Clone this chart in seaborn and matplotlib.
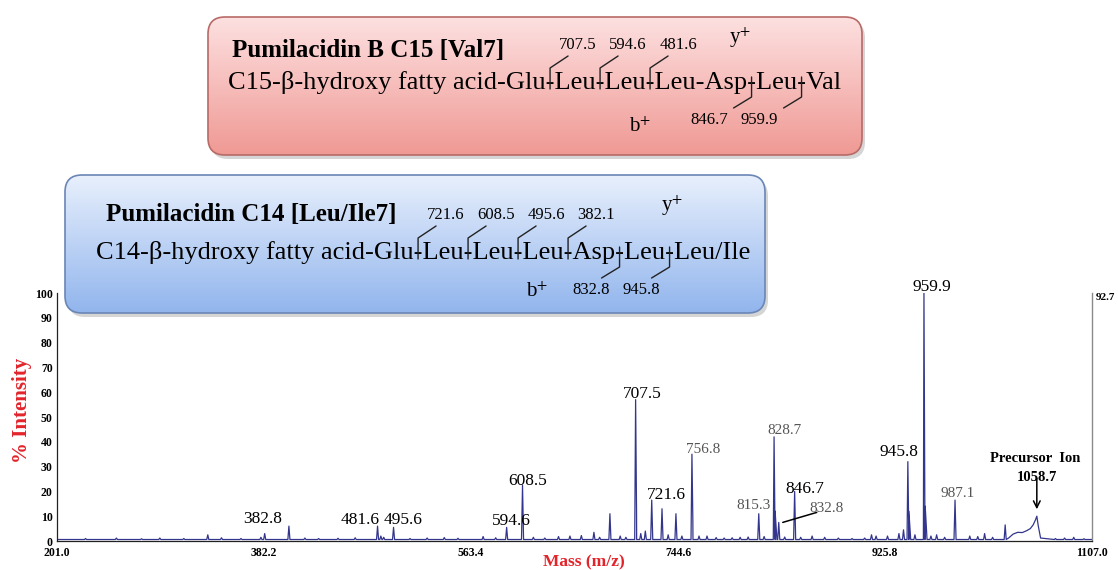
import numpy as np
import pandas as pd
import matplotlib
matplotlib.use('Agg')
import matplotlib.pyplot as plt
import seaborn as sns
from matplotlib.patches import FancyBboxPatch

# main peaks (m/z, % intensity)
peak_mz = [382.8, 404.0, 481.6, 484.5, 495.6, 594.6, 608.5, 671.0, 685.0, 707.5,
           712.0, 716.0, 721.6, 730.6, 742.8, 756.8, 815.3, 828.7, 832.8, 846.7,
           945.8, 959.9, 987.1, 1031.0]
peak_int = [3.0, 6.0, 6.0, 2.0, 5.5, 5.5, 22.5, 3.5, 11.0, 57.0,
            3.0, 4.0, 16.5, 13.0, 11.0, 35.0, 11.0, 42.0, 7.5, 20.0,
            32.0, 100.0, 16.5, 6.5]

# broader shoulders at the foot of the big peaks
shoulder_mz = [708.3, 757.6, 829.6, 946.7, 961.0]
shoulder_int = [12.0, 8.0, 12.0, 12.0, 14.0]

# small noise peaks along the baseline
noise_mz = [226, 253, 275, 291, 312, 333, 345, 362, 379.5, 418, 430, 447, 462,
            487, 510, 525, 540, 552, 574, 585, 618, 628, 640, 650, 660, 676,
            694, 699, 736, 748, 763, 770, 778, 785, 792, 799, 806, 820, 838,
            852, 862, 873, 885, 897, 908, 914, 918, 928, 938, 942, 952, 966,
            971, 978, 1000, 1007, 1013, 1020, 1075, 1083, 1091, 1100]
noise_int = [1.0, 1.2, 0.9, 1.2, 1.0, 2.5, 1.3, 1.0, 1.5, 1.2, 1.0, 1.1, 1.3,
             1.5, 1.0, 1.2, 1.4, 1.1, 1.8, 1.3, 1.5, 1.2, 1.8, 2.0, 2.2, 1.5,
             2.0, 1.5, 2.5, 2.0, 2.0, 2.0, 1.4, 1.2, 1.3, 1.5, 1.6, 1.8, 1.6,
             1.5, 2.0, 1.5, 1.2, 1.0, 1.2, 2.5, 2.0, 2.0, 3.0, 4.5, 2.5, 2.0,
             2.5, 1.5, 2.0, 1.8, 3.0, 1.5, 1.0, 1.2, 1.5, 0.9]

# broad precursor hump
hump_mz = [1034, 1038, 1042, 1046, 1050, 1053, 1055.5, 1057.5, 1058.7, 1060, 1062]
hump_int = [1.2, 2.8, 3.5, 3.4, 4.2, 5.0, 6.5, 8.5, 10.0, 6.0, 1.2]

x_ticks = [201.0, 382.2, 563.4, 744.6, 925.8, 1107.0]
y_ticks = [0, 10, 20, 30, 40, 50, 60, 70, 80, 90, 100]

# peak labels: text, m/z, intensity, offset x / up (px), large black or small grey
label_text = ['382.8', '481.6', '495.6', '594.6', '608.5', '707.5', '721.6', '846.7',
              '945.8', '959.9', '756.8', '815.3', '828.7', '832.8', '987.1']
label_mz = [382.8, 481.6, 495.6, 594.6, 608.5, 707.5, 721.6, 846.7,
            945.8, 959.9, 756.8, 815.3, 828.7, 832.8, 987.1]
label_int = [3.0, 6.0, 5.5, 5.5, 22.5, 57.0, 16.5, 20.0,
             32.0, 100.0, 35.0, 11.0, 42.0, 7.5, 16.5]
label_dx = [-2, -17, 10, 5, 5, 7, 15, 10, -9, 8, 11, -5, 10, 48, 3]
label_dy = [11, 2, 3, 2, 0, 2, 1, -2, 6, 2, 1, 5, 3, 10, 3]
label_big = [True] * 10 + [False] * 5

precursor_mz = 1058.7
precursor_int = 10.0
right_note = '92.7'

# peptide boxes
box1_title = 'Pumilacidin B C15 [Val7]'
box1_residues = ['C15-β-hydroxy fatty acid', 'Glu', 'Leu', 'Leu', 'Leu', 'Asp', 'Leu', 'Val']
box1_y_ions = ['707.5', '594.6', '481.6']
box1_y_cuts = [1, 2, 3]
box1_b_ions = ['846.7', '959.9']
box1_b_cuts = [5, 6]

box2_title = 'Pumilacidin C14 [Leu/Ile7]'
box2_residues = ['C14-β-hydroxy fatty acid', 'Glu', 'Leu', 'Leu', 'Leu', 'Asp', 'Leu', 'Leu/Ile']
box2_y_ions = ['721.6', '608.5', '495.6', '382.1']
box2_y_cuts = [1, 2, 3, 4]
box2_b_ions = ['832.8', '945.8']
box2_b_cuts = [5, 6]

sns.set_theme(style='white')
plt.rcParams['font.family'] = ['Liberation Serif', 'DejaVu Serif']
plt.rcParams['mathtext.fontset'] = 'stix'
plt.rcParams['text.color'] = 'black'
plt.rcParams['xtick.color'] = 'black'
plt.rcParams['ytick.color'] = 'black'

# build spectrum trace: each peak drawn as a narrow spike
base = 0.6
pts = [(201.0, base), (1107.0, base)]
for m, v in zip(peak_mz + noise_mz, peak_int + noise_int):
    pts += [(m - 0.9, base), (m, v), (m + 0.9, base)]
for m, v in zip(shoulder_mz, shoulder_int):
    pts += [(m - 1.6, base), (m, v), (m + 1.6, base)]
pts += list(zip(hump_mz, hump_int))
pts.sort(key=lambda p: p[0])
spec = pd.DataFrame(pts, columns=['mz', 'intensity'])

fig = plt.figure(figsize=(11.18, 5.70), dpi=100)
ax = fig.add_axes([57 / 1118, 29 / 570, 1035 / 1118, 248 / 570])
sns.lineplot(data=spec, x='mz', y='intensity', ax=ax, color='#33368c',
             linewidth=0.9, estimator=None, sort=False)
ax.set_xlim(201, 1107)
ax.set_ylim(0, 100)
ax.set_xlabel('')
ax.set_ylabel('')
ax.set_xticks(x_ticks)
ax.set_xticklabels(['%.1f' % t for t in x_ticks], fontweight='bold', fontsize=8.5)
ax.set_yticks(y_ticks)
ax.set_yticklabels([str(t) for t in y_ticks], fontweight='bold', fontsize=8.5)
ax.tick_params(axis='y', direction='in', length=3, width=0.8, pad=3)
ax.tick_params(axis='x', direction='out', length=2, width=0.8, pad=2)
ax.spines['top'].set_visible(False)
for s in ['left', 'bottom']:
    ax.spines[s].set_color('#222222')
    ax.spines[s].set_linewidth(0.9)
ax.spines['right'].set_color('#8a8a8a')
ax.spines['right'].set_linewidth(1.0)

for t, m, v, dx, dy, big in zip(label_text, label_mz, label_int, label_dx, label_dy, label_big):
    ax.annotate(t, xy=(m, v), xytext=(dx, dy), textcoords='offset pixels',
                ha='center', va='baseline', annotation_clip=False,
                fontsize=12.5 if big else 11, color='black' if big else '#555555')

# leader line for 832.8
ax.annotate('', xy=(832.8 + 3.5, 7.5), xytext=(34, 10), textcoords='offset pixels',
            arrowprops=dict(arrowstyle='-', color='black', lw=1.1, shrinkA=0, shrinkB=0))

# precursor ion
ax.annotate('Precursor  Ion', xy=(precursor_mz, precursor_int), xytext=(-2, 54),
            textcoords='offset pixels', ha='center', va='baseline',
            fontsize=10.5, fontweight='bold')
ax.annotate('1058.7', xy=(precursor_mz, precursor_int), xytext=(0, 35),
            textcoords='offset pixels', ha='center', va='baseline',
            fontsize=10.5, fontweight='bold')
ax.annotate('', xy=(precursor_mz, precursor_int), xytext=(0, 38),
            textcoords='offset pixels',
            arrowprops=dict(arrowstyle='->', color='black', lw=1.1,
                            shrinkA=0, shrinkB=5, mutation_scale=12))
ax.annotate(right_note, xy=(1, 1), xycoords='axes fraction', xytext=(4, -5),
            textcoords='offset pixels', ha='left', va='center',
            fontsize=8, fontweight='bold')

fig.text(584 / 1118, 1 - 562 / 570, 'Mass (m/z)', ha='center', va='center',
         color='#e3242b', fontsize=12.5, fontweight='bold')
fig.text(22 / 1118, 1 - 410 / 570, '% Intensity', ha='center', va='center',
         rotation=90, color='#e3242b', fontsize=15, fontweight='bold')

# overlay in pixel coordinates for the peptide boxes
ov = fig.add_axes([0, 0, 1, 1], zorder=5)
ov.patch.set_alpha(0)
ov.axis('off')
renderer = fig.canvas.get_renderer()


def cut_positions(x0, y, residues, size):
    cuts = []
    for i in range(1, len(residues)):
        pre = '-'.join(residues[:i])
        t1 = ov.text(x0, y, pre, fontsize=size)
        t2 = ov.text(x0, y, pre + '-', fontsize=size)
        w1 = t1.get_window_extent(renderer).width
        w2 = t2.get_window_extent(renderer).width
        t1.remove()
        t2.remove()
        cuts.append(x0 + (w1 + w2) / 2)
    return cuts


def draw_box(x0, y0, w, h, top, bottom, edge, title, tx, ty, residues, sx, sy,
             y_ions, y_cuts, b_ions, b_cuts, yplus, bplus, b_off):
    style = 'round,pad=0,rounding_size=17'
    shadow = FancyBboxPatch((x0 + 3, y0 + 4), w, h, boxstyle=style,
                            fc='#888888', ec='none', alpha=0.35, zorder=1)
    ov.add_patch(shadow)
    box = FancyBboxPatch((x0, y0), w, h, boxstyle=style, fc='none',
                         ec=edge, lw=1.2, zorder=3)
    ov.add_patch(box)
    g = np.linspace(0, 1, 256)[:, None, None]
    img = np.array(top)[None, None, :] + (np.array(bottom) - np.array(top))[None, None, :] * g
    im = ov.imshow(img, extent=(x0, x0 + w, y0 + h, y0), aspect='auto',
                   interpolation='bilinear', zorder=2)
    im.set_clip_path(box)

    ov.text(tx, ty, title, fontsize=18, fontweight='bold', ha='left', va='center', zorder=4)
    ov.text(sx, sy, '-'.join(residues), fontsize=19, ha='left', va='center', zorder=4)
    cuts = cut_positions(sx, sy, residues, 19)
    for lab, c in zip(y_ions, y_cuts):
        xc = cuts[c]
        ov.plot([xc, xc, xc + 18], [sy + 6, sy - 15, sy - 27], color='#222222', lw=1.0, zorder=4)
        ov.text(xc + 28, sy - 38, lab, fontsize=12, ha='center', va='center', zorder=4)
    for lab, c in zip(b_ions, b_cuts):
        xc = cuts[c]
        ov.plot([xc, xc, xc - 18], [sy - 6, sy + 14, sy + 25], color='#222222', lw=1.0, zorder=4)
        ov.text(xc + b_off, sy + 37, lab, fontsize=12, ha='center', va='center', zorder=4)
    ov.text(yplus[0], yplus[1], 'y$^{+}$', fontsize=15, ha='center', va='center', zorder=4)
    ov.text(bplus[0], bplus[1], 'b$^{+}$', fontsize=15, ha='center', va='center', zorder=4)


draw_box(208, 17, 654, 138, (0.99, 0.88, 0.88), (0.94, 0.60, 0.58), '#b86a66',
         box1_title, 232, 50, box1_residues, 228, 83,
         box1_y_ions, box1_y_cuts, box1_b_ions, box1_b_cuts,
         (740, 38), (640, 127), -42)
draw_box(65, 175, 700, 138, (0.91, 0.94, 0.99), (0.57, 0.71, 0.93), '#6a86b6',
         box2_title, 106, 214, box2_residues, 96, 253,
         box2_y_ions, box2_y_cuts, box2_b_ions, box2_b_cuts,
         (672, 206), (537, 292), -28)

ov.set_xlim(0, 1118)
ov.set_ylim(570, 0)

fig.savefig('out.png', dpi=100)
